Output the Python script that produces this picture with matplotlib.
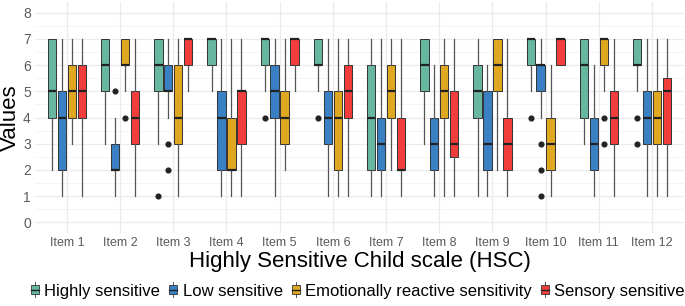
import matplotlib
matplotlib.use("Agg")
import matplotlib.pyplot as plt
from matplotlib.legend_handler import HandlerBase
from matplotlib.patches import Rectangle
from matplotlib.lines import Line2D

plt.rcParams['font.family'] = ['Liberation Sans', 'DejaVu Sans']

items = [f"Item {i}" for i in range(1, 13)]
groups = ["Highly sensitive", "Low sensitive", "Emotionally reactive sensitivity", "Sensory sensitive"]
colors = ["#67B7A0", "#3A80C4", "#E0A820", "#F23D3D"]

# Highly sensitive
hs_whislo = [2, 3, 3, 5, 5, 5, 1, 3, 1, 5, 3, 5]
hs_q1     = [4, 5, 5, 6, 6, 6, 2, 5, 4, 6, 4, 6]
hs_med    = [5, 6, 6, 7, 7, 6, 4, 6, 5, 7, 6, 6]
hs_q3     = [7, 7, 7, 7, 7, 7, 6, 7, 6, 7, 7, 7]
hs_whishi = [7, 7, 7, 7, 7, 7, 7, 7, 7, 7, 7, 7]
hs_fliers = [[], [], [1], [], [4], [4], [], [], [], [4], [], [4, 3]]

# Low sensitive
ls_whislo = [1, 1, 4, 1, 1, 1, 1, 1, 1, 4, 1, 1]
ls_q1     = [2, 2, 5, 2, 4, 3, 2, 2, 2, 5, 2, 3]
ls_med    = [4, 2, 5, 4, 5, 4, 3, 3, 3, 6, 3, 4]
ls_q3     = [5, 3, 6, 5, 6, 5, 4, 4, 5, 6, 4, 5]
ls_whishi = [7, 4, 7, 7, 7, 7, 7, 6, 6, 7, 6, 7]
ls_fliers = [[], [5], [3, 2], [], [], [], [], [], [], [3, 2, 1], [], []]

# Emotionally reactive sensitivity
er_whislo = [3, 5, 1, 1, 2, 1, 2, 1, 2, 1, 5, 1]
er_q1     = [4, 6, 3, 2, 3, 2, 4, 4, 5, 2, 6, 3]
er_med    = [5, 6, 4, 2, 4, 4, 5, 5, 6, 3, 7, 4]
er_q3     = [6, 7, 6, 4, 5, 5, 6, 6, 7, 4, 7, 5]
er_whishi = [7, 7, 7, 7, 7, 7, 7, 7, 7, 6, 7, 7]
er_fliers = [[], [4], [], [], [], [], [], [], [], [], [4, 3], []]

# Sensory sensitive
ss_whislo = [1, 1, 5, 1, 5, 1, 1, 1, 1, 6, 1, 1]
ss_q1     = [4, 3, 6, 3, 6, 4, 2, 2.5, 2, 6, 3, 3]
ss_med    = [5, 4, 7, 5, 7, 5, 2, 3, 3, 7, 4, 5]
ss_q3     = [6, 5, 7, 5, 7, 6, 4, 5, 4, 7, 5, 5.5]
ss_whishi = [7, 7, 7, 7, 7, 7, 7, 7, 7, 7, 7, 7]
ss_fliers = [[], [], [], [], [], [], [], [], [], [], [], []]

yticks = [0, 1, 2, 3, 4, 5, 6, 7, 8]

series = [
    (hs_whislo, hs_q1, hs_med, hs_q3, hs_whishi, hs_fliers),
    (ls_whislo, ls_q1, ls_med, ls_q3, ls_whishi, ls_fliers),
    (er_whislo, er_q1, er_med, er_q3, er_whishi, er_fliers),
    (ss_whislo, ss_q1, ss_med, ss_q3, ss_whishi, ss_fliers),
]

fig = plt.figure(figsize=(6.85, 3.06), dpi=100)
ax = fig.add_axes([0.051, 0.239, 0.9475, 0.754])

edge = "#333333"
wcol = "#555555"
offsets = [-0.28, -0.094, 0.094, 0.28]
bw = 0.158

for gi, (wl, q1, md, q3, wh, fl) in enumerate(series):
    stats = []
    for i in range(len(items)):
        stats.append(dict(whislo=wl[i], q1=q1[i], med=md[i], q3=q3[i],
                          whishi=wh[i], fliers=fl[i], label=""))
    pos = [i + 1 + offsets[gi] for i in range(len(items))]
    ax.bxp(stats, positions=pos, widths=bw, patch_artist=True, showcaps=False,
           boxprops=dict(facecolor=colors[gi], edgecolor=edge, linewidth=0.7),
           medianprops=dict(color="#222222", linewidth=1.6, solid_capstyle='butt'),
           whiskerprops=dict(color=wcol, linewidth=0.9),
           flierprops=dict(marker='o', markerfacecolor="#222222", markeredgecolor="#222222",
                           markersize=3.4, linestyle='none'),
           manage_ticks=False, zorder=3)

ax.set_xlim(0.4, 12.6)
ax.set_ylim(-0.4, 8.4)
ax.set_xticks(range(1, 13))
ax.set_xticklabels(items)
ax.set_yticks(yticks)
ax.set_yticks([y + 0.5 for y in yticks[:-1]], minor=True)
ax.grid(True, which='major', color="#EBEBEB", linewidth=0.9, zorder=0)
ax.grid(True, which='minor', axis='y', color="#F3F3F3", linewidth=0.6, zorder=0)
ax.set_axisbelow(True)
for s in ax.spines.values():
    s.set_visible(False)
ax.tick_params(axis='both', which='both', length=0, labelcolor="#5A5A5A")
ax.tick_params(axis='x', pad=3, labelsize=9)
ax.tick_params(axis='y', pad=3, labelsize=10)

fig.text(10 / 685, 1 - 117.5 / 306, "Values", rotation=90, ha='center', va='center',
         fontsize=16, color="black")
fig.text(0.525, 0.144, "Highly Sensitive Child scale (HSC)", ha='center', va='center',
         fontsize=16, color="black")


class BoxHandler(HandlerBase):
    def create_artists(self, legend, orig_handle, xdescent, ydescent, width, height, fontsize, trans):
        fc = orig_handle.get_facecolor()
        cx = width / 2 - xdescent
        bh = height * 0.8
        y0 = -ydescent + (height - bh) / 2
        r = Rectangle((cx - width * 0.45, y0), width * 0.9, bh, facecolor=fc,
                      edgecolor=edge, linewidth=0.6, transform=trans)
        m = Line2D([cx - width * 0.45, cx + width * 0.45], [y0 + bh / 2] * 2,
                   color="#222222", linewidth=1.0, transform=trans)
        w1 = Line2D([cx, cx], [y0 - height * 0.25, y0], color=wcol, linewidth=0.7, transform=trans)
        w2 = Line2D([cx, cx], [y0 + bh, y0 + bh + height * 0.25], color=wcol, linewidth=0.7, transform=trans)
        return [w1, w2, r, m]


handles = [Rectangle((0, 0), 1, 1, facecolor=c) for c in colors]
fig.legend(handles, groups, loc='center', bbox_to_anchor=(0.522, 0.049), ncol=4,
           frameon=False, fontsize=12, handlelength=0.55, handleheight=0.7,
           handletextpad=0.3, columnspacing=0.5,
           handler_map={Rectangle: BoxHandler()})

fig.savefig("out.png", dpi=100)
